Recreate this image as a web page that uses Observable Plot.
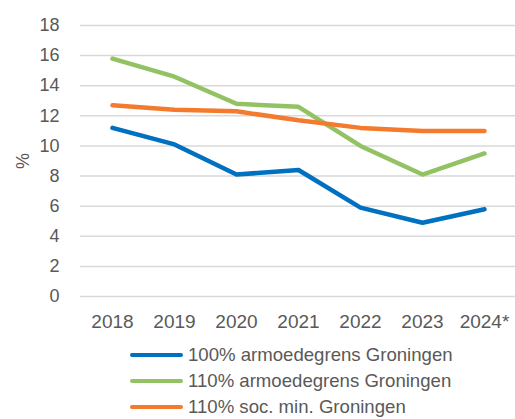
<!DOCTYPE html>
<html>
<head>
<meta charset="utf-8">
<script src="https://cdn.jsdelivr.net/npm/d3@7"></script>
<script src="https://cdn.jsdelivr.net/npm/@observablehq/plot@0.6"></script>
<style>
  html, body { margin: 0; padding: 0; background: #fff; }
  body { width: 515px; height: 419px; overflow: hidden; font-family: "Liberation Sans", Arial, sans-serif; }
  #legend { position: relative; margin-left: 130px; margin-top: 2px; color: #595959; font-size: 18.6px; }
  .row { display: flex; align-items: center; height: 26px; }
  .sw { width: 53px; height: 4px; border-radius: 2px; margin-right: 5px; }
</style>
</head>
<body>
<div id="chart"></div>
<div id="legend"></div>
<script>
const years = ["2018", "2019", "2020", "2021", "2022", "2023", "2024*"];
const seriesNames = ["100% armoedegrens Groningen", "110% armoedegrens Groningen", "110% soc. min. Groningen"];
const colors = ["#0070C0", "#92C264", "#F47A2E"];
const armoede100 = [11.2, 10.1, 8.1, 8.4, 5.9, 4.9, 5.8];
const armoede110 = [15.8, 14.6, 12.8, 12.6, 10.0, 8.1, 9.5];
const socmin110 = [12.7, 12.4, 12.3, 11.7, 11.2, 11.0, 11.0];
const yTicks = [0, 2, 4, 6, 8, 10, 12, 14, 16, 18];

const allValues = [armoede100, armoede110, socmin110];
const data = [];
allValues.forEach((vals, i) => vals.forEach((v, j) => data.push({series: seriesNames[i], year: years[j], value: v})));

const chart = Plot.plot({
  width: 515,
  height: 340,
  marginLeft: 80,
  marginRight: 0,
  marginTop: 25,
  marginBottom: 44,
  style: {fontFamily: "'Liberation Sans', Arial, sans-serif", fontSize: "18px", color: "#595959", background: "#fff"},
  x: {type: "point", domain: years, padding: 0.5},
  y: {domain: [0, 18]},
  color: {domain: seriesNames, range: colors},
  marks: [
    Plot.gridY(yTicks, {stroke: "#d9d9d9", strokeOpacity: 1, strokeWidth: 1.5}),
    Plot.axisY(yTicks, {tickSize: 0, tickPadding: 21, label: "%", labelAnchor: "center", labelArrow: "none", labelOffset: 64, fill: "#595959"}),
    Plot.axisX({tickSize: 0, tickPadding: 18, label: null, fill: "#595959", fontSize: 19}),
    Plot.line(data, {x: "year", y: "value", z: "series", stroke: "series", strokeWidth: 4.5, strokeLinecap: "round", strokeLinejoin: "round"})
  ]
});
document.getElementById("chart").appendChild(chart);

const legend = document.getElementById("legend");
seriesNames.forEach((name, i) => {
  const row = document.createElement("div");
  row.className = "row";
  const sw = document.createElement("div");
  sw.className = "sw";
  sw.style.background = colors[i];
  const t = document.createElement("span");
  t.textContent = name;
  row.appendChild(sw);
  row.appendChild(t);
  legend.appendChild(row);
});
</script>
</body>
</html>
